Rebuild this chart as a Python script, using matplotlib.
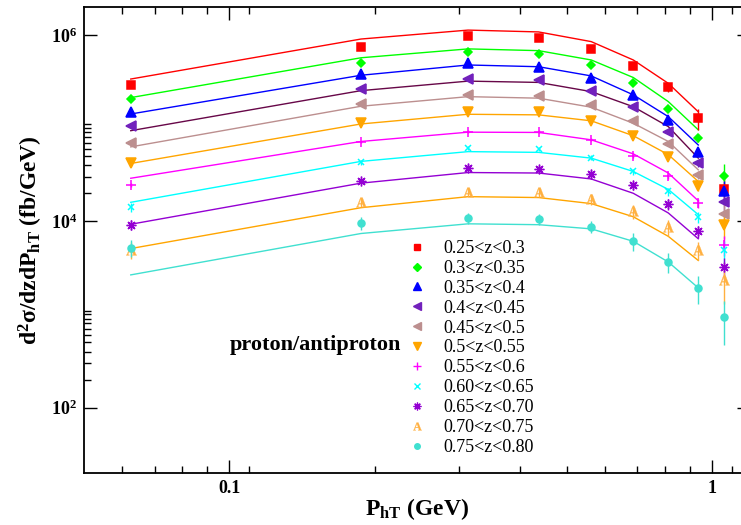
import math
import matplotlib
matplotlib.use('Agg')
import matplotlib.pyplot as plt
from matplotlib.lines import Line2D
from matplotlib.ticker import FixedLocator, FuncFormatter, NullFormatter

plt.rcParams['font.family'] = ['Liberation Serif', 'DejaVu Serif']
plt.rcParams['font.weight'] = 'bold'
plt.rcParams['mathtext.fontset'] = 'custom'
plt.rcParams['mathtext.rm'] = 'Liberation Serif:bold'
plt.rcParams['mathtext.it'] = 'Liberation Serif:bold'
plt.rcParams['mathtext.bf'] = 'Liberation Serif:bold'
plt.rcParams['mathtext.sf'] = 'Liberation Serif'
plt.rcParams['mathtext.default'] = 'rm'

# ---------------- data ----------------
pht = [0.0625, 0.1875, 0.3125, 0.4375, 0.5625, 0.6875, 0.8125, 0.9375, 1.0625]
pht_theory = [0.0625, 0.1875, 0.3125, 0.4375, 0.5625, 0.6875, 0.8125, 0.9375]

z_labels = ['0.25<z<0.3', '0.3<z<0.35', '0.35<z<0.4', '0.4<z<0.45', '0.45<z<0.5',
            '0.5<z<0.55', '0.55<z<0.6', '0.60<z<0.65', '0.65<z<0.70',
            '0.70<z<0.75', '0.75<z<0.80']

data_z025 = [2.88e5, 7.5e5, 9.8e5, 9.2e5, 7.1e5, 4.7e5, 2.75e5, 1.28e5, 2.22e4]
data_z030 = [2.04e5, 5.05e5, 6.5e5, 6.2e5, 4.77e5, 3.03e5, 1.6e5, 7.9e4, 3.03e4]
data_z035 = [1.51e5, 3.82e5, 5.05e5, 4.57e5, 3.5e5, 2.28e5, 1.23e5, 5.6e4, 2.14e4]
data_z040 = [1.06e5, 2.62e5, 3.37e5, 3.3e5, 2.51e5, 1.68e5, 9.2e4, 4.2e4, 1.6e4]
data_z045 = [6.9e4, 1.81e5, 2.26e5, 2.22e5, 1.78e5, 1.2e5, 6.7e4, 3.16e4, 1.2e4]
data_z050 = [4.18e4, 1.15e5, 1.48e5, 1.5e5, 1.2e5, 8.3e4, 4.9e4, 2.37e4, 9.2e3]
data_z055 = [2.45e4, 7.1e4, 9.2e4, 9.2e4, 7.5e4, 5.05e4, 3.06e4, 1.57e4, 5.6e3]
data_z060 = [1.42e4, 4.3e4, 6.1e4, 6.0e4, 4.84e4, 3.43e4, 2.09e4, 1.1e4, 4.9e3]
data_z065 = [9.2e3, 2.72e4, 3.75e4, 3.66e4, 3.2e4, 2.43e4, 1.53e4, 7.8e3, 3.2e3]
data_z070 = [4.95e3, 1.6e4, 2.06e4, 2.06e4, 1.74e4, 1.28e4, 8.7e3, 4.9e3, 2.37e3]
data_z075 = [5.2e3, 9.7e3, 1.08e4, 1.06e4, 8.7e3, 6.1e3, 3.66e3, 1.93e3, 933]

err_z025 = [5e3, 1.2e4, 1.5e4, 1.5e4, 1.5e4, 1.5e4, 3.2e4, 3.3e4, 6.5e3]
err_z030 = [3e3, 8e3, 1e4, 1e4, 1e4, 8e3, 6e3, 8e3, 1.05e4]
err_z035 = [2e3, 6e3, 8e3, 8e3, 7e3, 6e3, 5e3, 5e3, 6e3]
err_z040 = [2e3, 5e3, 6e3, 6e3, 5e3, 5e3, 4e3, 4e3, 4.5e3]
err_z045 = [1.5e3, 4e3, 5e3, 5e3, 4e3, 4e3, 3e3, 3e3, 3.5e3]
err_z050 = [1e3, 3e3, 4e3, 4e3, 3.5e3, 3e3, 2.5e3, 2.5e3, 2.8e3]
err_z055 = [1.2e3, 2.5e3, 3e3, 3e3, 3e3, 2.5e3, 2e3, 1.8e3, 1.4e3]
err_z060 = [1.6e3, 2.5e3, 3e3, 3e3, 3e3, 2.5e3, 2e3, 1.5e3, 1.2e3]
err_z065 = [1.2e3, 2.2e3, 3.5e3, 3.5e3, 3.2e3, 2.5e3, 2.2e3, 1.2e3, 8e2]
err_z070 = [1.0e3, 1.9e3, 2.3e3, 2.3e3, 2.4e3, 2.3e3, 1.75e3, 1.1e3, 1.07e3]
err_z075 = [1.05e3, 1.55e3, 1.5e3, 1.5e3, 1.3e3, 1.3e3, 900, 650, 460]

theo_z025 = [3.37e5, 9.06e5, 1.13e6, 1.08e6, 8.5e5, 5.4e5, 3.03e5, 1.5e5]
theo_z030 = [2.13e5, 5.7e5, 7.1e5, 6.8e5, 5.4e5, 3.5e5, 1.93e5, 9.6e4]
theo_z035 = [1.42e5, 3.7e5, 4.77e5, 4.57e5, 3.64e5, 2.28e5, 1.33e5, 6.6e4]
theo_z040 = [9.4e4, 2.53e5, 3.2e5, 3.1e5, 2.47e5, 1.7e5, 1.04e5, 4.77e4]
theo_z045 = [6.3e4, 1.72e5, 2.18e5, 2.1e5, 1.68e5, 1.13e5, 7.2e4, 3.57e4]
theo_z050 = [4.18e4, 1.11e5, 1.41e5, 1.39e5, 1.2e5, 8.3e4, 5.2e4, 2.68e4]
theo_z055 = [2.9e4, 7.2e4, 9.06e4, 9.0e4, 7.5e4, 5.3e4, 3.3e4, 1.66e4]
theo_z060 = [1.6e4, 4.4e4, 5.6e4, 5.5e4, 4.77e4, 3.43e4, 2.2e4, 1.18e4]
theo_z065 = [9.3e3, 2.57e4, 3.34e4, 3.3e4, 2.85e4, 2.0e4, 1.23e4, 6.5e3]
theo_z070 = [5.1e3, 1.4e4, 1.84e4, 1.8e4, 1.55e4, 1.12e4, 6.9e3, 3.8e3]
theo_z075 = [2.66e3, 7.4e3, 9.4e3, 9.2e3, 8.3e3, 6.1e3, 3.66e3, 1.93e3]

x_major = [0.1, 1.0]
x_major_labels = ['0.1', '1']
x_minor = [0.06, 0.07, 0.08, 0.09, 0.11, 0.2, 0.3, 0.4, 0.5, 0.6, 0.7, 0.8, 0.9, 1.1]
y_major = [1e2, 1e4, 1e6]
y_minor = [200, 300, 400, 500, 600, 700, 800, 900, 1000, 1100,
           2e4, 3e4, 4e4, 5e4, 6e4, 7e4, 8e4, 9e4, 1e5, 1.1e5]

data_sets = [data_z025, data_z030, data_z035, data_z040, data_z045, data_z050,
             data_z055, data_z060, data_z065, data_z070, data_z075]
err_sets = [err_z025, err_z030, err_z035, err_z040, err_z045, err_z050,
            err_z055, err_z060, err_z065, err_z070, err_z075]
theo_sets = [theo_z025, theo_z030, theo_z035, theo_z040, theo_z045, theo_z050,
             theo_z055, theo_z060, theo_z065, theo_z070, theo_z075]

# ---------------- style ----------------
marker_colors = ['#ff0000', '#00ff00', '#0000ff', '#7221bc', '#bc8f8f', '#ffa500',
                 '#ff00ff', '#00ffff', '#9400d3', '#ffb040', '#40e0d0']
line_colors = ['#ff0000', '#00ff00', '#0000ff', '#670748', '#bc8f8f', '#ffa500',
               '#ff00ff', '#00ffff', '#9400d3', '#ffa500', '#40e0d0']
markers = ['s', 'D', '^', '<', '<', 'v', '+', 'x', (8, 2, 0), '$\\mathsf{A}$', 'o']
msizes = [5.5, 4.5, 6.5, 6.5, 6.5, 6.5, 7, 5, 7, 7.5, 5]
medges = [1.1, 1.1, 1.1, 1.1, 1.1, 1.1, 1.1, 1.1, 1.0, 0.2, 1.1]

fig = plt.figure(figsize=(7.41, 5.25), dpi=100)
W, H = 741.0, 525.0
ax = fig.add_axes([84 / W, 52.3 / H, 666 / W, 465.7 / H])
ax.set_xscale('log')
ax.set_yscale('log')

for i in range(len(data_sets)):
    ax.plot(pht_theory, theo_sets[i], '-', color=line_colors[i], lw=1.0, zorder=2)
    d = data_sets[i]
    e = err_sets[i]
    lower = [min(ee, v * 0.95) for v, ee in zip(d, e)]
    ax.errorbar(pht, d, yerr=[lower, e], fmt='none', ecolor=marker_colors[i],
                elinewidth=1.0, capsize=0, zorder=3)
    ax.plot(pht, d, linestyle='none', marker=markers[i], color=marker_colors[i],
            markersize=msizes[i], markeredgewidth=medges[i], zorder=4)

ax.set_xlim(0.05, 1.2)
ax.set_ylim(20, 2e6)

ax.xaxis.set_major_locator(FixedLocator(x_major))
ax.xaxis.set_major_formatter(FuncFormatter(
    lambda v, p: x_major_labels[x_major.index(v)] if v in x_major else ''))
ax.xaxis.set_minor_locator(FixedLocator(x_minor))
ax.xaxis.set_minor_formatter(NullFormatter())
ax.yaxis.set_major_locator(FixedLocator(y_major))
ax.yaxis.set_major_formatter(FuncFormatter(
    lambda v, p: '$\\mathbf{10^{%d}}$' % round(math.log10(v))))
ax.yaxis.set_minor_locator(FixedLocator(y_minor))
ax.yaxis.set_minor_formatter(NullFormatter())

ax.tick_params(which='both', direction='in', top=True, right=True, width=1.0)
ax.tick_params(which='major', length=9.5, labelsize=13, pad=5)
ax.tick_params(which='minor', length=4.8)
for sp in ax.spines.values():
    sp.set_linewidth(1.3)

# legend (markers only)
handles = [Line2D([], [], linestyle='none', marker=markers[i], color=marker_colors[i],
                  markersize=msizes[i] * 0.8, markeredgewidth=medges[i] * 0.9)
           for i in range(len(z_labels))]
leg = ax.legend(handles, z_labels, loc='upper left',
                bbox_to_anchor=(407.7 / W, 1 - 240 / H), bbox_transform=fig.transFigure,
                frameon=False, borderpad=0, borderaxespad=0, handlelength=1.0,
                handletextpad=0.98, labelspacing=0.16,
                prop={'family': 'Liberation Serif', 'weight': 'normal', 'size': 13})

ax.text((230 - 84) / 666, (472.7 - 345) / 465.7, 'proton/antiproton',
        transform=ax.transAxes, fontsize=16, fontweight='bold', ha='left', va='center')

fig.text(31 / W, 1 - 240 / H, 'd$^{2}$σ/dzdP$_{\\mathrm{hT}}$ (fb/GeV)',
         rotation=90, ha='center', va='center', fontsize=17, fontweight='bold')
fig.text(417 / W, 1 - 509 / H, 'P$_{\\mathrm{hT}}$ (GeV)',
         ha='center', va='center', fontsize=17, fontweight='bold')

fig.savefig('out.png', dpi=100)
